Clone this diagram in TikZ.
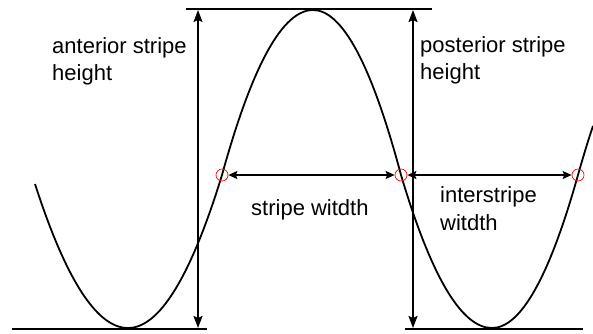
\documentclass[tikz,border=0pt]{standalone}
\usepackage{fontspec}
\setmainfont{Liberation Sans}
\usetikzlibrary{arrows.meta}
\begin{document}
\begin{tikzpicture}[x=1pt,y=-1pt,
  wave/.style={line width=1.8pt},
  refline/.style={line width=2pt},
  vdim/.style={line width=1.8pt,{Stealth[length=12pt,width=9pt,inset=2pt]}-{Stealth[length=12pt,width=9pt,inset=2pt]}},
  hdim/.style={line width=1.6pt,{Stealth[length=9pt,width=8pt,inset=1.5pt]}-{Stealth[length=9pt,width=8pt,inset=1.5pt]}},
  hit/.style={draw=red,line width=0.7pt,circle,minimum size=12pt,inner sep=0pt},
  lbl/.style={anchor=base west,inner sep=0pt,font=\fontsize{22}{26}\selectfont}
]
\useasboundingbox (0,0) rectangle (593,333);

% reference lines
\coordinate (tl) at (186,9);
\coordinate (tr) at (432,9);
\coordinate (bl1) at (12,329);
\coordinate (bl2) at (207,329);
\coordinate (br1) at (405,329);
\coordinate (br2) at (583,329);
\draw[refline] (tl) -- (tr);
\draw[refline] (bl1) -- (bl2);
\draw[refline] (br1) -- (br2);

% wave
\draw[wave] (35,184) .. controls (66,280) and (97,328) .. (128,328)
  .. controls (159.33,328) and (190.67,277) .. (222,175)
  .. controls (252.33,65) and (282.67,10) .. (313,10)
  .. controls (342.33,10) and (371.67,65) .. (401,175)
  .. controls (431.33,277) and (461.67,328) .. (492,328)
  .. controls (520.67,328) and (549.33,277) .. (578,175)
  .. controls (583,157.2) and (588,140.8) .. (593,125.9);

% crossing markers
\node[hit] (c1) at (222,175) {};
\node[hit] (c2) at (401,175) {};
\node[hit] (c3) at (578,175) {};

% vertical height arrows
\coordinate (at) at (198,10);
\coordinate (ab) at (198,328);
\coordinate (pt) at (413,10);
\coordinate (pb) at (413,328);
\draw[vdim] (at) -- (ab);
\draw[vdim] (pt) -- (pb);

% horizontal width arrows
\draw[hdim] (c1) -- (c2);
\draw[hdim] (c2) -- (c3);

% labels
\node[lbl] (ant1) at (52,53) {anterior stripe};
\node[lbl] (ant2) at (52,80) {height};
\node[lbl] (pos1) at (420,52) {posterior stripe};
\node[lbl] (pos2) at (420,79) {height};
\node[lbl] (sw) at (251,215) {stripe witdth};
\node[lbl] (is1) at (440,202) {interstripe};
\node[lbl] (is2) at (440,230) {witdth};
\end{tikzpicture}
\end{document}
